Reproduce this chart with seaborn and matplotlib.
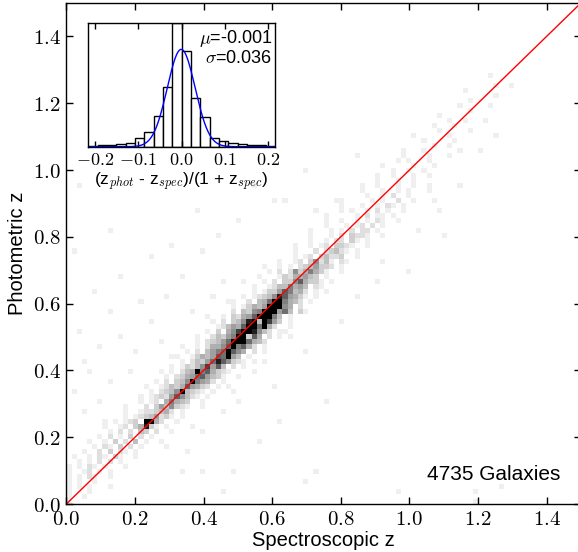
import numpy as np
import matplotlib
matplotlib.use("Agg")
import matplotlib.pyplot as plt
import seaborn as sns

plt.rcParams['font.family'] = ['Liberation Sans', 'DejaVu Sans']
plt.rcParams['mathtext.fontset'] = 'cm'

# ---------------- data ----------------
N_GALAXIES = 4735
BIN = 0.015            # 2D histogram cell size (100 x 100 over 0..1.5)
LEVELS = {'.': 0, 'a': 10, 'b': 12, 'c': 14, 'd': 16, 'e': 18, 'f': 20,
          'g': 24, 'h': 28, 'i': 32, 'j': 40}
LEVELS.update({str(d): d for d in range(1, 10)})

# row j = photometric-z cell j; characters = spectroscopic-z cells j-8 .. j+8
band_rows = [
    "........1........", ".......1..1......", "......1...1......", ".....1.1.1...1...",
    "....1.1..1.......", "...1.1.21..1.....", "..1..12.1.1......", ".1.1.21.1...1....",
    "..1.1.2.2.1......", "1..1.21.31..1....", ".1..2.3.21.1.....", "..1.21.3.2.1....1",
    "1..1.3.2.4.1..1..", ".1.2.1.3.2.1.....", "..1.2.2.43.2..1..",
    "1..12.35c31.1....", ".1.123.fd52..1...", "..1.12346231.1...", ".1..1223452.1....",
    "1...2.3647321..1.", "..1.12.58543..1..", ".1.12326a7421.1..", "..1.2347e4321.1..",
    "1..12435a6532.1.1", ".1.2.347f8652.1..", "..1.23569a6431..1", "1.1.245e8a5321...",
    ".1.13247b6a4.2.1.", "..1.24369ca7321.1", "1..13546a9d64.1..", ".1.2.4689fa75.2.1",
    "..1.2557ag8a52.1.", ".1.23469dhf9542..", "1..24368ge3a5.2.1", ".1.3.57bhjc742.1.",
    "..12465aig9e52..1", "1.2.347cj4hb63.1.", ".1.3256ahjg84.1..", "..2.4378eig694.31",
    ".1.13546dhf75.2..", "1..2.459ge8542.1.", ".1.12347ca6531.1.", "..1.1336a8452.1.1",
    ".1..12448564.21..", "..1.2.337a5331.1.", "1...13255643.1...", ".1.2.27358531..1.",
    "..1.1.2346332.1..", ".1..12.37241.21..", "...1.12.34223..1.", "..1...2.23421.1..",
    ".1..1.12.3321..1.", "...1..1.22.31.1..", "..1...1.2.3221..1", ".1...1.1.2.22.1..",
    "...1...1.12.2.1..", "..1..1..1.1.21..1", ".1.....1.2.11.1..", "...1.1..1.2.1..1.",
    "..1...1..1.21.1..", ".1.....1.1..1..1.",
    ".....1..1.2..1...", "...1...1..1.1....", "..1..1...1..1..1.",
    "....1...1..1.....", "...1..1...1..1...", ".....1..1..1.....", "..1.....1...1....",
    "......1...1......", "....1....1...1...", "...1...1......1..", "........1..1.....",
    ".....1.....1.....", "..1......1.......", "......1.....1....", "....1...1........",
    ".........1...1...", "...1.............", "........1........", ".....1.....1.....",
    ".................", "..........1......", "...1.............", "........1........",
    ".................", ".....1...........",
]

# isolated single-galaxy cells (spec z, phot z)
outlier_spec = [0.02, 0.05, 0.07, 0.09, 0.04, 0.12, 0.16, 0.20, 0.13, 0.18,
                0.25, 0.29, 0.33, 0.40, 0.44, 0.50, 0.31, 0.24, 0.08, 0.15,
                0.21, 0.36, 0.27, 0.05, 0.10, 0.38, 0.63, 0.73, 0.60, 0.55,
                0.84, 0.96, 0.70, 0.02, 0.12, 0.03, 0.45, 0.42, 0.11,
                0.33, 0.39, 0.48, 0.46, 0.73, 0.69, 0.97, 1.19, 1.19, 1.27,
                0.56, 0.50, 0.60, 0.70, 0.65, 0.40, 0.35, 0.55, 0.80, 0.85,
                0.90, 0.75, 0.62, 0.45, 1.07, 1.08, 1.02, 1.05, 0.96, 1.10,
                1.15, 1.20, 1.25, 1.30, 1.12, 1.18, 0.92, 1.00, 0.79,
                0.30, 0.34, 0.41, 0.47, 0.52, 0.58, 0.37, 0.49, 0.57, 0.64]
outlier_phot = [0.33, 0.43, 0.40, 0.47, 0.52, 0.58, 0.50, 0.45, 0.36, 0.39,
                0.55, 0.62, 0.68, 0.75, 0.80, 0.85, 0.77, 0.74, 0.64, 0.68,
                0.60, 0.58, 0.49, 0.28, 0.30, 0.88, 0.90, 0.87, 0.91, 0.95,
                1.04, 1.02, 1.00, 0.75, 0.82, 0.95, 0.66, 0.62, 0.25,
                0.10, 0.10, 0.10, 0.04, 0.10, 0.07, 0.04, 0.04, 0.01, 0.05,
                0.19, 0.30, 0.35, 0.45, 0.50, 0.22, 0.16, 0.40, 0.55, 0.62,
                0.66, 0.30, 0.25, 0.28, 0.91, 0.87, 0.82, 0.94, 0.91, 0.80,
                0.95, 1.05, 1.10, 1.25, 1.15, 1.20, 0.72, 0.70, 0.91,
                0.44, 0.47, 0.56, 0.60, 0.66, 0.71, 0.23, 0.33, 0.42, 0.52]

# inset: histogram of (zphot - zspec)/(1+zspec)
resid_counts = [10, 14, 18, 25, 42, 95, 154, 322, 630, 1302,
                1008, 508, 308, 95, 63, 35, 28, 18, 14, 7]
resid_lo, resid_hi = -0.215, 0.215
fit_mu, fit_sigma, fit_amp = -0.001, 0.032, 1022
label_mu, label_sigma = -0.001, 0.036

main_ticks = [0.0, 0.2, 0.4, 0.6, 0.8, 1.0, 1.2, 1.4]
inset_ticks = [-0.2, -0.1, 0.0, 0.1, 0.2]

# ---------------- build cell table ----------------
HALF = 8
cell_x, cell_y, cell_n = [], [], []
for j, row in enumerate(band_rows):
    for k, ch in enumerate(row):
        c = j - HALF + k
        n = LEVELS[ch]
        if n > 0 and 0 <= c < 100:
            cell_x.append((c + 0.5) * BIN)
            cell_y.append((j + 0.5) * BIN)
            cell_n.append(n)
for xs, ys in zip(outlier_spec, outlier_phot):
    cell_x.append(xs)
    cell_y.append(ys)
    cell_n.append(1)

# ---------------- figure ----------------
W, H = 578, 552
fig = plt.figure(figsize=(W / 100, H / 100), dpi=100)
ax = fig.add_axes([66.4 / W, 48 / H, 514.5 / W, 501 / H])

sns.histplot(x=cell_x, y=cell_y, weights=cell_n, bins=100,
             binrange=((0, 1.5), (0, 1.5)), cmap='gray_r', vmin=0, vmax=16,
             ax=ax)
ax.axline((0, 0), slope=1, color='red', lw=1)

ax.set_xlim(0, 1.5)
ax.set_ylim(0, 1.5)
ax.set_xticks(main_ticks)
ax.set_yticks(main_ticks)
ax.set_xticklabels([f'${v:.1f}$' for v in main_ticks])
ax.set_yticklabels([f'${v:.1f}$' for v in main_ticks])
ax.tick_params(direction='in', top=True, right=True, length=5, width=1,
               labelsize=15, pad=4, colors='black')
ax.set_xlabel('Spectroscopic z', fontsize=14.5, labelpad=2)
ax.set_ylabel('Photometric z', fontsize=14.5, labelpad=4)
for s in ax.spines.values():
    s.set_color('black')
    s.set_linewidth(1)
ax.grid(False)
ax.set_facecolor('white')
ax.text(1.439, 0.087, f'{N_GALAXIES} Galaxies', ha='right', va='center',
        fontsize=15)

# ---------------- inset ----------------
axi = fig.add_axes([88.3 / W, (H - 146.7) / H, (275 - 88.3) / W, (146.7 - 22.7) / H])
axi.set_facecolor('white')
resid_centers = np.linspace(resid_lo, resid_hi, len(resid_counts) + 1)
resid_centers = 0.5 * (resid_centers[:-1] + resid_centers[1:])
sns.histplot(x=resid_centers, weights=resid_counts, bins=len(resid_counts),
             binrange=(resid_lo, resid_hi), color='white',
             edgecolor='black', linewidth=1, alpha=1, ax=axi)
gx = np.linspace(resid_lo, resid_hi, 400)
gy = fit_amp * np.exp(-0.5 * ((gx - fit_mu) / fit_sigma) ** 2)
sns.lineplot(x=gx, y=gy, color='blue', lw=1, ax=axi)
axi.set_xlim(resid_lo, resid_hi)
axi.set_ylim(0, max(resid_counts))
axi.set_yticks([])
axi.set_ylabel('')
axi.set_xticks(inset_ticks)
axi.set_xticklabels([f'${v:.1f}$' for v in inset_ticks])
axi.tick_params(direction='in', top=True, length=4, width=1, labelsize=13,
                pad=4, colors='black')
axi.set_xlabel(r'(z$_{phot}$ - z$_{spec}$)/(1 + z$_{spec}$)', fontsize=12.5,
               labelpad=1)
for s in axi.spines.values():
    s.set_color('black')
    s.set_linewidth(1)
axi.text(0.985, 0.87, rf'$\mu$={label_mu:.3f}', transform=axi.transAxes,
         ha='right', va='center', fontsize=13)
axi.text(0.985, 0.715, rf'$\sigma$={label_sigma:.3f}', transform=axi.transAxes,
         ha='right', va='center', fontsize=13)

fig.savefig('out.png', dpi=100)
